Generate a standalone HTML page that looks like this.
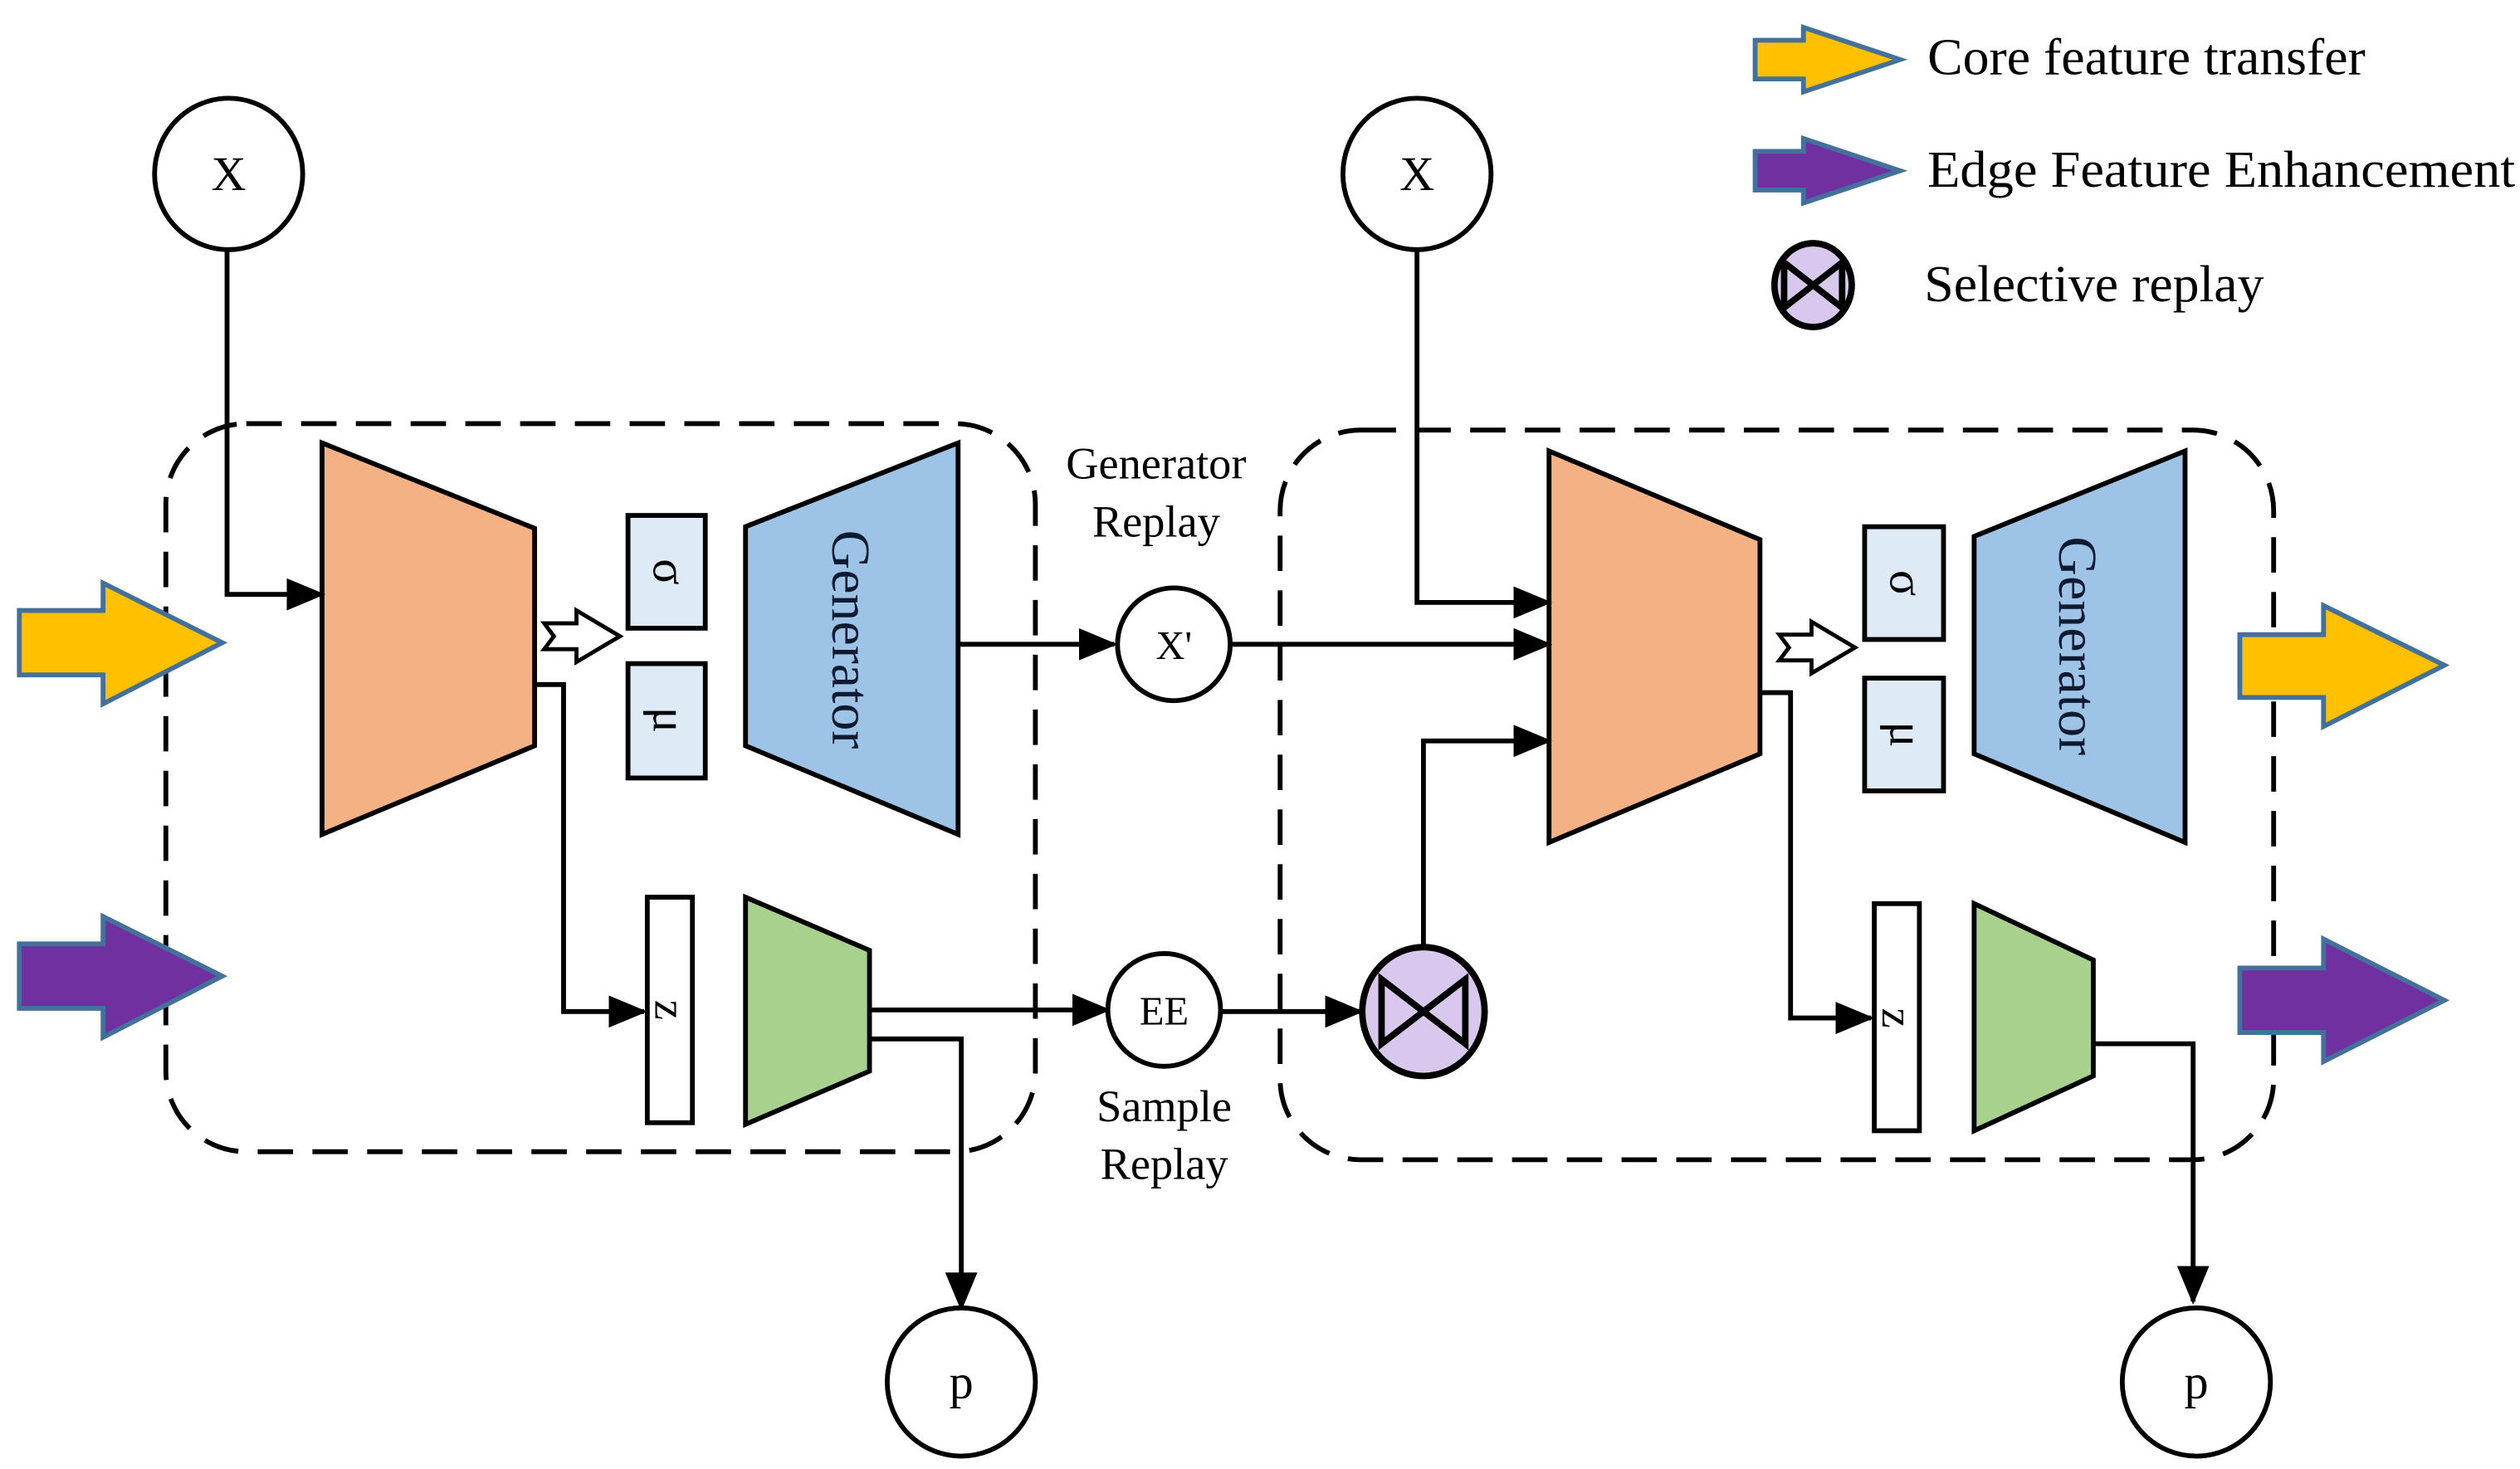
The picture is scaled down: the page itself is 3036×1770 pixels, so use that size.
<!DOCTYPE html>
<html><head><meta charset="utf-8"><style>html,body{margin:0;padding:0;background:#fff}svg{display:block}</style></head>
<body>
<svg width="3036" height="1770" viewBox="0 0 1565 912" preserveAspectRatio="none" xmlns="http://www.w3.org/2000/svg" font-family="'Liberation Serif', serif">
<defs>
<marker id="b" markerWidth="24" markerHeight="24" refX="22" refY="12" orient="auto" markerUnits="userSpaceOnUse" viewBox="0 0 24 24"><path d="M0,2 L24,12 L0,22z" fill="#000"/></marker>
</defs>
<g stroke="#000" stroke-width="3" fill="none">
<rect x="103" y="263" width="540" height="452" rx="50" stroke-dasharray="22,12"/>
<rect x="795" y="267" width="617" height="453" rx="50" stroke-dasharray="22,12"/>
</g>
<g stroke="#41719c" stroke-width="3">
<path d="M12,379 H64 V362 L138,399 L64,437 V419 H12z" fill="#ffc000"/>
<path d="M12,586 H64 V569 L138,606 L64,644 V626 H12z" fill="#7030a0"/>
<path d="M1391,394 H1443 V376 L1518,413 L1443,451 V433 H1391z" fill="#ffc000"/>
<path d="M1391,601 H1443 V583 L1518,621 L1443,659 V641 H1391z" fill="#7030a0"/>
<path d="M1090,25 H1120 V17 L1180,37 L1120,57 V49 H1090z" fill="#ffc000"/>
<path d="M1090,94 H1120 V86 L1180,106 L1120,126 V118 H1090z" fill="#7030a0"/>
</g>
<g font-size="32" fill="#000">
<text x="1197" y="46" textLength="272" lengthAdjust="spacingAndGlyphs">Core feature transfer</text>
<text x="1197" y="116" textLength="365" lengthAdjust="spacingAndGlyphs">Edge Feature Enhancement</text>
<text x="1195" y="187" textLength="211" lengthAdjust="spacingAndGlyphs">Selective replay</text>
</g>
<g stroke="#000" stroke-width="3">
<path d="M200,275 L332,328 L332,463 L200,518z" fill="#f4b183"/>
<path d="M463,327 L595,275 L595,518 L463,463z" fill="#9dc3e6"/>
<rect x="390" y="320" width="48" height="70" fill="#deebf7"/>
<rect x="390" y="412" width="48" height="71" fill="#deebf7"/>
<rect x="402" y="557" width="28" height="140" fill="#fff"/>
<path d="M463,557 L540,590 L540,665 L463,698z" fill="#a9d18e"/>
<path d="M962,280 L1093,335 L1093,468 L962,523z" fill="#f4b183"/>
<path d="M1226,333 L1357,280 L1357,523 L1226,468z" fill="#9dc3e6"/>
<rect x="1158" y="327" width="49" height="70" fill="#deebf7"/>
<rect x="1158" y="421" width="49" height="70" fill="#deebf7"/>
<rect x="1164" y="561" width="28" height="141" fill="#fff"/>
<path d="M1226,561 L1300,596 L1300,668 L1226,702z" fill="#a9d18e"/>
<path d="M338,387 H358 V379 L385,395 L358,411 V403 H338 L344,395z" fill="#fff" stroke-width="2.5"/>
<path d="M1105,394 H1125 V386 L1152,402 L1125,418 V410 H1105 L1111,402z" fill="#fff" stroke-width="2.5"/>
</g>
<g stroke="#000" stroke-width="3" fill="none">
<path d="M141,154 V369 H200" marker-end="url(#b)"/>
<path d="M332,425 H350 V628 H400" marker-end="url(#b)"/>
<path d="M540,627 H688" marker-end="url(#b)"/>
<path d="M540,645 H597 V812" marker-end="url(#b)"/>
<path d="M595,400 H692" marker-end="url(#b)"/>
<path d="M764,400 H962" marker-end="url(#b)"/>
<path d="M758,628 H845" marker-end="url(#b)"/>
<path d="M884,590 V460 H962" marker-end="url(#b)"/>
<path d="M880,154 V374 H962" marker-end="url(#b)"/>
<path d="M1093,430 H1112 V632 H1162" marker-end="url(#b)"/>
<path d="M1300,648 H1362 V808" marker-end="url(#b)"/>
</g>
<g stroke="#000" stroke-width="3" fill="#fff">
<ellipse cx="142" cy="108" rx="46" ry="47"/>
<ellipse cx="880" cy="108" rx="46" ry="47"/>
<ellipse cx="729" cy="400" rx="35" ry="35"/>
<ellipse cx="723" cy="627" rx="35" ry="35"/>
<ellipse cx="597" cy="858" rx="46" ry="46"/>
<ellipse cx="1364" cy="858" rx="46" ry="46"/>
<ellipse cx="884" cy="628" rx="38" ry="40" fill="#d9c8ee" stroke-width="4"/>
<ellipse cx="1126" cy="177" rx="24" ry="26" fill="#d9c8ee" stroke-width="4"/>
<path d="M858,608 L910,648 V608 L858,648z" fill="none" stroke-width="4"/>
<path d="M1108,163 L1144,191 V163 L1108,191z" fill="none" stroke-width="4"/>
</g>
<g font-size="30" fill="#000" text-anchor="middle">
<text x="142" y="118">X</text>
<text x="880" y="118">X</text>
<text x="729" y="409" font-size="25">X'</text>
<text x="723" y="636" font-size="25">EE</text>
<text x="597" y="868">p</text>
<text x="1364" y="868">p</text>
<text x="718" y="297" font-size="28">Generator</text>
<text x="718" y="333" font-size="28">Replay</text>
<text x="723" y="696" font-size="28">Sample</text>
<text x="723" y="732" font-size="28">Replay</text>
<text transform="translate(517,397) rotate(90)" font-size="34" fill="#0d1a30">Generator</text>
<text transform="translate(1279,401) rotate(90)" font-size="34" fill="#0d1a30">Generator</text>
<text transform="translate(406,355) rotate(90)" font-size="30">σ</text>
<text transform="translate(406,447) rotate(90)" font-size="30">μ</text>
<text transform="translate(1174,362) rotate(90)" font-size="30">σ</text>
<text transform="translate(1174,456) rotate(90)" font-size="30">μ</text>
<text transform="translate(407,627) rotate(90)" font-size="28">z</text>
<text transform="translate(1169,632) rotate(90)" font-size="28">z</text>
</g>
</svg>
</body></html>
